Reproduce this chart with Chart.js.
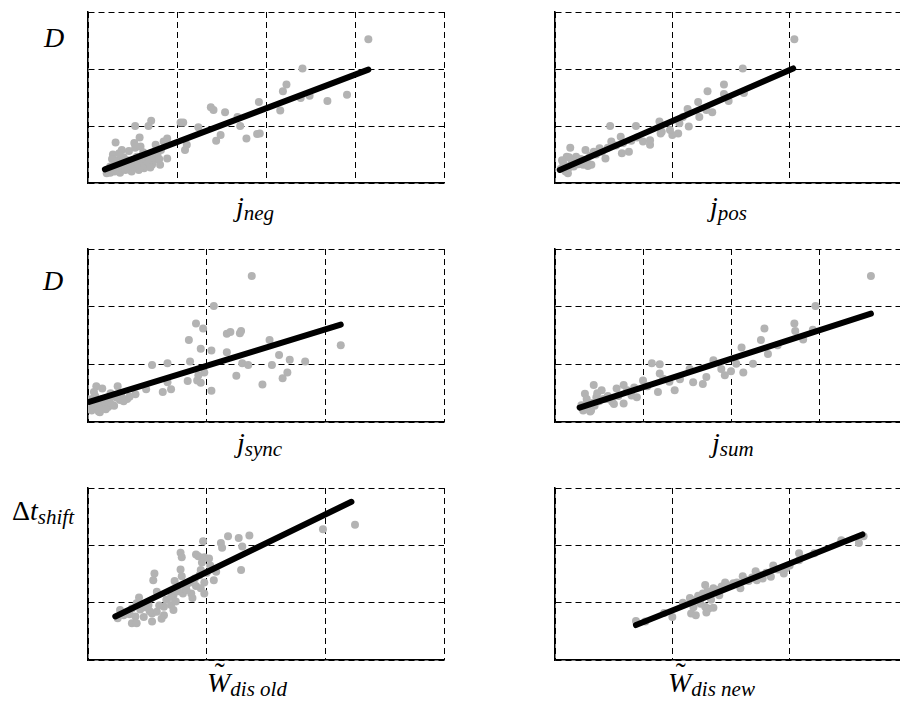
<!DOCTYPE html>
<html>
<head>
<meta charset="utf-8">
<script src="https://cdn.jsdelivr.net/npm/chart.js@4.4.0/dist/chart.umd.min.js"></script>
<style>
  html, body { margin: 0; padding: 0; background: #fff; }
  #wrap { position: relative; width: 900px; height: 704px; overflow: hidden; background: #fff; }
  canvas { position: absolute; }
  .lbl { position: absolute; font-family: "Liberation Serif", "Times New Roman", serif; font-style: italic; font-size: 28px; line-height: 28px; white-space: nowrap; color: #000; }
  .lbl .s { font-size: 21px; position: relative; top: 4px; }
  .up { font-style: normal; }
  .w { position: relative; display: inline-block; }
  .w .tl { position: absolute; left: 2px; right: 0; text-align: center; top: -10px; font-style: normal; font-size: 30px; }
</style>
</head>
<body>
<div id="wrap">
  <div class="lbl" style="left:44px; top:24px;">D</div>
  <div class="lbl" style="left:236px; top:193px;">j<span class="s">neg</span></div>
  <div class="lbl" style="left:710px; top:193px;">j<span class="s">pos</span></div>
  <div class="lbl" style="left:43px; top:267px;">D</div>
  <div class="lbl" style="left:237px; top:429px;">j<span class="s">sync</span></div>
  <div class="lbl" style="left:712px; top:429px;">j<span class="s">sum</span></div>
  <div class="lbl" style="left:12px; top:497px;"><span class="up">Δ</span>t<span class="s">shift</span></div>
  <div class="lbl" style="left:207px; top:669px;"><span class="w">W<span class="tl">˜</span></span><span class="s">dis old</span></div>
  <div class="lbl" style="left:668px; top:669px;"><span class="w">W<span class="tl">˜</span></span><span class="s">dis new</span></div>
</div>
<script>
// D vs j_neg
const negX = [3.15, 2.41, 2.23, 2.19, 2.49, 2.39, 2.69, 2.91, 1.92, 2.16, 1.38, 1.41, 1.54, 1.68, 1.71, 1.78, 1.90, 1.93, 1.49, 1.44,
  1.24, 1.04, 1.07, 1.11, 1.09, 0.71, 0.68, 0.53, 0.31, 0.58, 0.38, 0.28, 0.53, 0.59, 0.76, 0.89, 0.85, 0.89, 0.81, 0.72,
  0.63, 0.49, 0.36, 0.25, 0.21, 0.31, 0.44, 0.55, 0.66, 0.74, 0.46, 0.59, 0.33, 0.25, 0.76, 0.57, 0.42,
  0.22, 0.27, 0.30, 0.34, 0.38, 0.41, 0.45, 0.48, 0.52, 0.50, 0.56, 0.61, 0.64, 0.68, 0.70, 0.73, 0.78, 0.82, 0.27, 0.35,
  0.40, 0.46, 0.62, 0.52, 0.80];
const negY = [2.52, 2.01, 1.73, 1.61, 1.53, 1.49, 1.44, 1.55, 1.42, 1.27, 1.33, 1.28, 1.24, 1.16, 1.00, 0.78, 0.86, 0.87, 0.84, 0.74,
  0.98, 1.06, 1.06, 0.67, 0.58, 1.09, 1.00, 1.00, 0.71, 0.80, 0.58, 0.50, 0.62, 0.64, 0.67, 0.78, 0.73, 0.43, 0.32, 0.32,
  0.26, 0.20, 0.18, 0.18, 0.17, 0.32, 0.40, 0.46, 0.46, 0.40, 0.29, 0.35, 0.40, 0.29, 0.52, 0.23, 0.23,
  0.22, 0.25, 0.20, 0.28, 0.33, 0.30, 0.24, 0.35, 0.38, 0.28, 0.33, 0.40, 0.30, 0.36, 0.27, 0.45, 0.50, 0.58, 0.42, 0.52,
  0.45, 0.56, 0.54, 0.70, 0.42];
const negFitX = [0.19, 3.15];
const negFitY = [0.24, 1.99];

// D vs j_pos
const posX = [2.04, 1.60, 1.44, 1.30, 1.44, 1.61, 1.48, 1.22, 1.34, 1.23, 1.13, 1.14, 1.06, 1.00, 1.05, 0.89, 0.90, 0.81, 0.75, 0.69,
  0.47, 0.56, 0.63, 0.57, 0.48, 0.43, 0.38, 0.33, 0.26, 0.13, 0.18, 0.24, 0.31, 0.10, 0.07, 0.09, 0.11, 0.16, 0.81, 0.91,
  0.98, 1.09, 1.29,
  0.05, 0.08, 0.12, 0.14, 0.17, 0.20, 0.22, 0.27, 0.30, 0.35, 0.40, 0.45, 0.52, 0.58, 0.65, 0.70, 0.12, 0.06, 0.28];
const posY = [2.52, 2.01, 1.73, 1.61, 1.56, 1.58, 1.44, 1.42, 1.24, 1.16, 1.30, 0.99, 1.05, 0.84, 0.87, 1.08, 0.87, 0.67, 0.73, 1.00,
  1.00, 0.81, 0.55, 0.52, 0.73, 0.43, 0.61, 0.55, 0.58, 0.62, 0.46, 0.32, 0.32, 0.46, 0.35, 0.20, 0.17, 0.29, 0.75, 0.90,
  0.93, 1.16, 1.28,
  0.25, 0.30, 0.27, 0.35, 0.38, 0.33, 0.42, 0.40, 0.48, 0.50, 0.55, 0.62, 0.66, 0.70, 0.74, 0.80, 0.45, 0.40, 0.30];
const posFitX = [0.04, 2.03];
const posFitY = [0.23, 2.01];

// D vs j_sync
const syncX = [1.38, 1.06, 0.91, 0.97, 0.85, 0.95, 1.04, 1.17, 1.20, 1.28, 1.29, 1.17, 1.53, 1.61, 1.70, 1.55, 1.83, 2.13, 1.68, 1.64,
  1.47, 1.25, 1.30, 1.35, 0.86, 0.98, 0.93, 0.92, 0.95, 0.84, 1.04, 0.67, 0.54, 0.63, 0.70, 0.67, 0.49, 0.40, 0.25, 0.33,
  0.22, 0.17, 0.12, 0.07, 0.10, 0.03, 0.02, 0.05, 0.22, 0.27, 0.13,
  0.03, 0.05, 0.08, 0.10, 0.12, 0.15, 0.18, 0.20, 0.24, 0.28, 0.30, 0.35, 0.06, 0.09, 0.15, 0.19, 0.03];
const syncY = [2.53, 2.01, 1.71, 1.62, 1.42, 1.27, 1.24, 1.53, 1.56, 1.54, 1.58, 1.21, 1.42, 1.16, 1.08, 0.99, 1.05, 1.33, 0.86, 0.76,
  0.65, 0.80, 1.02, 0.99, 1.05, 0.86, 0.81, 0.72, 0.68, 0.71, 0.54, 1.02, 0.99, 0.52, 0.57, 0.69, 0.57, 0.48, 0.62, 0.40,
  0.46, 0.26, 0.58, 0.62, 0.17, 0.20, 0.29, 0.52, 0.28, 0.38, 0.35,
  0.30, 0.25, 0.35, 0.28, 0.40, 0.32, 0.36, 0.30, 0.42, 0.45, 0.36, 0.44, 0.45, 0.18, 0.22, 0.50, 0.40];
const syncFitX = [0.01, 2.13];
const syncFitY = [0.35, 1.69];

// D vs j_sum
const sumX = [3.59, 2.96, 2.72, 2.73, 2.82, 2.93, 2.38, 2.34, 2.42, 2.53, 2.12, 2.06, 2.25, 2.14, 2.00, 1.93, 1.89, 1.80, 1.72, 1.68,
  1.57, 1.42, 1.36, 1.19, 1.19, 1.10, 1.17, 1.00, 0.93, 0.78, 0.78, 0.67, 0.70, 0.53, 0.44, 0.34, 0.47, 0.32, 0.40, 0.30,
  0.59, 0.87, 1.53, 1.23,
  0.32, 0.35, 0.38, 0.42, 0.45, 0.50, 0.55, 0.60, 0.36, 0.41, 0.48, 0.65, 0.72, 0.82, 0.90, 1.05, 1.30];
const sumY = [2.53, 2.01, 1.71, 1.58, 1.43, 1.60, 1.62, 1.42, 1.18, 1.33, 1.29, 1.01, 1.01, 0.86, 0.88, 0.81, 0.92, 1.07, 0.78, 0.66,
  0.69, 0.74, 0.55, 0.84, 1.00, 1.02, 0.52, 0.72, 0.43, 0.64, 0.32, 0.31, 0.58, 0.55, 0.64, 0.49, 0.43, 0.20, 0.18, 0.29,
  0.40, 0.46, 0.92, 0.75,
  0.25, 0.30, 0.22, 0.33, 0.28, 0.36, 0.40, 0.45, 0.40, 0.20, 0.50, 0.35, 0.45, 0.55, 0.60, 0.62, 0.70];
const sumFitX = [0.28, 3.59];
const sumFitY = [0.25, 1.88];

// dt_shift vs W_dis old
const oldX = [2.25, 1.98, 1.18, 1.27, 1.36, 0.97, 1.12, 1.13, 1.30, 1.29, 0.78, 0.79, 0.91, 0.93, 0.98, 1.02, 0.96, 1.03, 0.78, 0.79,
  0.95, 1.08, 1.06, 0.56, 0.55, 0.73, 0.83, 0.91, 0.95, 0.98, 0.87, 0.80, 0.72, 0.58, 0.43, 0.41, 0.51, 0.64, 0.70, 0.72,
  0.58, 0.54, 0.64, 0.54, 0.47, 0.27, 0.37, 0.37, 0.41, 0.25, 0.33, 0.83,
  0.30, 0.35, 0.40, 0.44, 0.48, 0.52, 0.60, 0.66, 0.70, 0.76, 0.82, 0.86, 0.90, 0.94, 1.00, 1.04, 0.98, 0.88, 0.62, 0.74];
const oldY = [2.36, 2.28, 2.16, 2.13, 2.17, 2.07, 2.04, 1.96, 1.98, 1.57, 1.87, 1.79, 1.84, 1.81, 1.79, 1.77, 1.70, 1.65, 1.58, 1.46,
  1.57, 1.54, 1.39, 1.51, 1.39, 1.38, 1.31, 1.29, 1.25, 1.16, 1.16, 1.16, 1.13, 1.19, 1.09, 0.99, 0.96, 0.93, 0.96, 0.87,
  0.84, 0.81, 0.78, 0.67, 0.75, 0.87, 0.90, 0.64, 0.64, 0.73, 0.84, 1.22,
  0.78, 0.80, 0.76, 0.88, 0.92, 0.85, 0.95, 1.05, 1.10, 1.20, 1.25, 1.35, 1.42, 1.48, 1.52, 1.60, 1.35, 1.08, 0.72, 1.02];
const oldFitX = [0.23, 2.22];
const oldFitY = [0.76, 2.76];

// dt_shift vs W_dis new
const newX = [2.63, 2.59, 2.44, 2.21, 2.08, 2.08, 1.95, 1.97, 1.86, 1.84, 1.77, 1.71, 1.72, 1.65, 1.60, 1.58, 1.45, 1.40, 1.35, 1.28,
  1.26, 1.31, 1.35, 1.28, 1.24, 1.19, 1.16, 1.20, 1.29, 1.00, 0.93, 0.69, 0.77, 1.09, 1.52,
  1.15, 1.22, 1.30, 1.38, 1.42, 1.48, 1.55, 1.62, 1.68, 1.75, 1.80, 1.90, 2.00, 1.18, 1.33];
const newY = [2.16, 2.04, 2.09, 1.86, 1.86, 1.74, 1.51, 1.60, 1.65, 1.45, 1.42, 1.55, 1.39, 1.38, 1.46, 1.25, 1.35, 1.13, 1.25, 1.31,
  1.16, 0.90, 0.91, 0.93, 0.98, 1.04, 0.81, 0.78, 0.83, 0.75, 0.82, 0.68, 0.67, 1.00, 1.34,
  1.08, 1.12, 1.20, 1.22, 1.28, 1.30, 1.35, 1.40, 1.44, 1.48, 1.52, 1.58, 1.65, 0.92, 1.05];
const newFitX = [0.69, 2.62];
const newFitY = [0.61, 2.19];

const pad = 12;
const panels = [
  { left: 88, top: 12, w: 356, h: 171, xMax: 4, yMax: 3, xs: negX, ys: negY, fx: negFitX, fy: negFitY },
  { left: 555, top: 12, w: 352, h: 171, xMax: 3, yMax: 3, xs: posX, ys: posY, fx: posFitX, fy: posFitY },
  { left: 88, top: 249, w: 356, h: 173, xMax: 3, yMax: 3, xs: syncX, ys: syncY, fx: syncFitX, fy: syncFitY },
  { left: 555, top: 249, w: 352, h: 173, xMax: 4, yMax: 3, xs: sumX, ys: sumY, fx: sumFitX, fy: sumFitY },
  { left: 88, top: 488, w: 356, h: 172, xMax: 3, yMax: 3, xs: oldX, ys: oldY, fx: oldFitX, fy: oldFitY },
  { left: 555, top: 488, w: 352, h: 172, xMax: 3, yMax: 3, xs: newX, ys: newY, fx: newFitX, fy: newFitY }
];

function axis(max) {
  return {
    type: "linear",
    min: 0,
    max: max,
    ticks: { display: false, stepSize: 1 },
    grid: { color: "#000", lineWidth: 1, drawTicks: false, borderDash: [6, 4] },
    border: { display: true, color: "#000", width: 1.5, dash: [6, 4] }
  };
}

const wrap = document.getElementById("wrap");
panels.forEach(p => {
  const cv = document.createElement("canvas");
  cv.width = p.w + 2 * pad;
  cv.height = p.h + 2 * pad;
  cv.style.left = (p.left - pad) + "px";
  cv.style.top = (p.top - pad) + "px";
  wrap.appendChild(cv);

  new Chart(cv.getContext("2d"), {
    type: "scatter",
    data: {
      datasets: [{
        data: p.fx.map((x, i) => ({ x: x, y: p.fy[i] })),
        showLine: true,
        borderColor: "#000",
        borderWidth: 6,
        borderCapStyle: "round",
        pointRadius: 0,
        fill: false
      }, {
        data: p.xs.map((x, i) => ({ x: x, y: p.ys[i] })),
        pointRadius: 4,
        pointBorderWidth: 0,
        backgroundColor: "#b3b3b3",
        borderColor: "#b3b3b3"
      }]
    },
    options: {
      responsive: false,
      animation: false,
      events: [],
      layout: { padding: pad },
      plugins: { legend: { display: false }, tooltip: { enabled: false } },
      scales: { x: axis(p.xMax), y: axis(p.yMax) }
    }
  });
});
</script>
</body>
</html>
